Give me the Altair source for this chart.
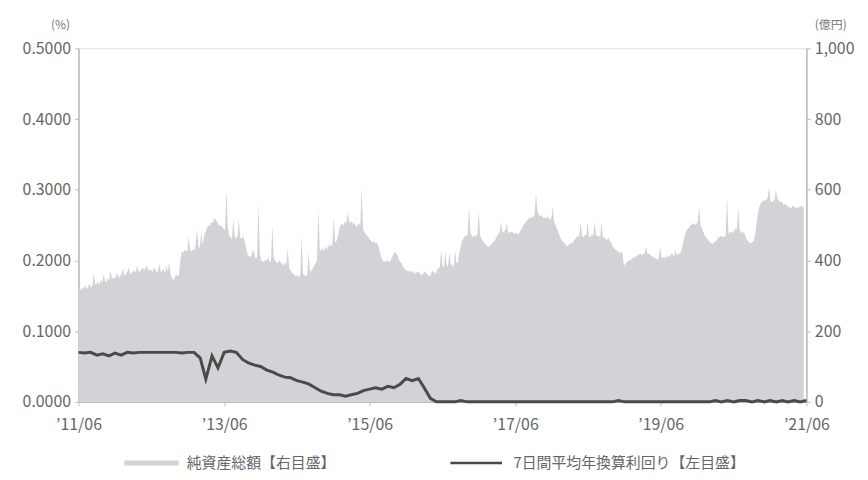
import altair as alt
import pandas as pd

# ---- Net assets (億円), weekly ----
assets_2011 = [318,322,315,325,320,330,318,326,335,322,330,365,332,
               335,340,330,345,338,360,342,340,350,345,372,348,352,
               350,355,365,350,358,360,378,355,362,368,380,360,365,
               368,372,365,385,370,368,375,380,372,378,388,370,375]
assets_2012 = [372,368,380,375,365,372,390,368,370,378,362,385,370,
               395,360,350,345,352,360,355,358,400,425,422,430,428,
               425,470,430,425,432,428,445,490,440,435,480,445,470,
               480,490,500,495,510,505,515,520,512,505,498,500,495]
assets_2013 = [490,485,600,495,470,465,460,518,470,462,468,515,465,
               460,470,455,440,420,412,410,415,430,420,405,410,560,
               420,400,398,395,402,400,410,395,400,500,410,398,395,
               392,400,395,390,385,395,388,434,380,372,365,362,358]
assets_2014 = [356,358,352,360,468,362,358,355,360,425,365,372,378,
               385,392,400,552,430,428,435,425,440,432,438,445,440,
               445,524,450,455,470,490,500,505,498,510,505,538,510,
               505,512,500,508,495,500,505,498,608,490,480,475,470]
assets_2015 = [465,458,455,450,455,448,450,440,425,410,400,398,395,
               400,398,395,402,410,420,425,418,412,400,395,390,380,
               375,372,370,368,372,365,370,362,368,365,370,360,358,
               362,370,365,360,358,355,365,370,368,360,372,380,378]
assets_2016 = [431,385,380,430,382,388,425,385,390,380,428,392,395,
               420,440,455,462,470,468,475,552,480,470,465,472,468,
               475,538,470,460,455,450,445,440,438,442,445,450,455,
               460,470,475,480,510,478,482,485,505,480,478,482,480]
assets_2017 = [478,475,480,472,478,485,490,500,505,510,515,520,518,
               525,520,530,594,540,530,525,528,520,522,518,525,520,
               515,520,552,510,500,490,480,470,460,455,450,445,440,
               442,445,450,448,455,460,465,470,468,510,470,465,472]
assets_2018 = [470,510,468,465,475,470,510,472,468,470,465,510,462,
               468,460,458,465,455,450,440,435,430,428,425,420,425,
               422,384,390,395,398,400,402,405,410,408,412,415,418,
               420,415,418,422,440,418,420,415,412,410,408,405,403]
assets_2019 = [405,440,408,410,405,412,408,415,410,420,418,412,430,
               415,418,420,425,440,460,475,485,490,495,500,502,505,
               500,504,508,552,500,490,480,470,465,460,455,450,448,
               448,452,455,460,465,468,470,465,468,470,580,475,480]
assets_2020 = [482,478,485,490,488,552,485,480,478,482,470,460,455,
               450,448,452,455,470,500,530,550,560,565,570,568,572,
               575,608,570,565,568,572,600,575,570,565,568,560,558,
               560,555,552,550,548,555,552,550,548,552,550,555,552,550]

net_assets = (assets_2011 + assets_2012 + assets_2013 + assets_2014 + assets_2015 +
              assets_2016 + assets_2017 + assets_2018 + assets_2019 + assets_2020)

# ---- 7-day average annualised yield (%), monthly ----
yield_7d = [0.070,0.069,0.070,0.066,0.068,0.065,0.069,0.066,0.070,0.069,0.070,0.070,
            0.070,0.070,0.070,0.070,0.070,0.069,0.070,0.070,0.062,0.032,0.065,0.048,
            0.070,0.072,0.070,0.060,0.055,0.052,0.050,0.045,0.042,0.038,0.035,0.034,
            0.030,0.028,0.025,0.020,0.015,0.012,0.010,0.010,0.008,0.010,0.012,0.016,
            0.018,0.020,0.018,0.022,0.020,0.025,0.033,0.030,0.033,0.020,0.005,0.000,
            0.000,0.000,0.000,0.002,0.000,0.000,0.000,0.000,0.000,0.000,0.000,0.000,
            0.000,0.000,0.000,0.000,0.000,0.000,0.000,0.000,0.000,0.000,0.000,0.000,
            0.000,0.000,0.000,0.000,0.000,0.002,0.000,0.000,0.000,0.000,0.000,0.000,
            0.000,0.000,0.000,0.000,0.000,0.000,0.000,0.000,0.000,0.002,0.000,0.002,
            0.000,0.002,0.002,0.000,0.002,0.000,0.002,0.000,0.002,0.000,0.002,0.000,
            0.002]

series_assets = "純資産総額【右目盛】"
series_yield = "7日間平均年換算利回り【左目盛】"
tick_years = [2011, 2013, 2015, 2017, 2019, 2021]
left_ticks = [0, 0.1, 0.2, 0.3, 0.4, 0.5]
right_ticks = [0, 200, 400, 600, 800, 1000]

asset_dates = pd.date_range("2011-06-01", periods=len(net_assets), freq="7D").strftime("%Y/%m/%d")
yield_dates = pd.date_range("2011-06-01", periods=len(yield_7d), freq="MS").strftime("%Y/%m/%d")

df_a = pd.DataFrame({"date": list(asset_dates), "value": net_assets, "series": series_assets})
df_y = pd.DataFrame({"date": list(yield_dates), "value": yield_7d, "series": series_yield})

FONT = "Noto Sans CJK JP"
TXT = "#666666"
AX = "#bbbbbb"

x_enc = alt.X(
    "date:T",
    scale=alt.Scale(domain=[alt.DateTime(year=2011, month=6, date=1),
                            alt.DateTime(year=2021, month=6, date=1)], nice=False),
    axis=alt.Axis(values=[alt.DateTime(year=y, month=6, date=1) for y in tick_years],
                  format="’%y/%m", title=None, labelFlush=False, labelFontSize=16,
                  labelFont=FONT, labelColor=TXT, labelPadding=11, tickSize=4,
                  tickColor=AX, domainColor=AX, domainWidth=1.5, grid=False),
)

area = alt.Chart(df_a).mark_area(interpolate="linear").encode(
    x=x_enc,
    y=alt.Y("value:Q", scale=alt.Scale(domain=[0, 1000], nice=False),
            axis=alt.Axis(orient="right", values=right_ticks, format=",d", title="(億円)",
                          titleAngle=0, titleX=8, titleY=-24, titleAlign="left",
                          titleBaseline="middle", titleFontSize=12, titleFontWeight="normal",
                          titleColor="#777777", titleFont=FONT,
                          labelFontSize=16, labelFont=FONT, labelColor=TXT, labelPadding=4,
                          tickSize=4, tickColor=AX, domainColor=AX, domainWidth=1.5, grid=False)),
    fill=alt.Fill("series:N", scale=alt.Scale(domain=[series_assets], range=["#d3d3d7"]),
                  legend=alt.Legend(title=None, orient="none", legendX=46, legendY=390,
                                    direction="horizontal",
                                    symbolType="M-1,-0.09L1,-0.09L1,0.09L-1,0.09Z",
                                    symbolSize=3000, symbolStrokeWidth=0,
                                    labelFontSize=15, labelFont=FONT, labelColor=TXT,
                                    labelLimit=400, labelOffset=8)),
)

line = alt.Chart(df_y).mark_line(interpolate="linear", strokeWidth=3).encode(
    x=x_enc,
    y=alt.Y("value:Q", scale=alt.Scale(domain=[0, 0.5], nice=False),
            axis=alt.Axis(orient="left", values=left_ticks, format=".4f", title="(%)",
                          titleAngle=0, titleX=-9, titleY=-24, titleAlign="right",
                          titleBaseline="middle", titleFontSize=12, titleFontWeight="normal",
                          titleColor="#777777", titleFont=FONT,
                          labelFontSize=16, labelFont=FONT, labelColor=TXT, labelPadding=4,
                          tickSize=4, tickColor=AX, domainColor=AX, domainWidth=1.5, grid=False)),
    stroke=alt.Stroke("series:N", scale=alt.Scale(domain=[series_yield], range=["#4a4a4a"]),
                      legend=alt.Legend(title=None, orient="none", legendX=373, legendY=390,
                                        direction="horizontal", symbolType="stroke",
                                        symbolSize=2700, symbolStrokeWidth=2.5,
                                        labelFontSize=15, labelFont=FONT, labelColor=TXT,
                                        labelLimit=400, labelOffset=10)),
)

chart = alt.layer(area, line).resolve_scale(
    y="independent", fill="independent", stroke="independent"
).properties(
    width=733, height=356,
    padding={"left": 71, "top": 39, "right": 54, "bottom": 70},
    autosize=alt.AutoSizeParams(type="none"),
).configure_view(stroke=None).configure(background="white")

chart.save("out.html", embed_options={"renderer": "svg", "actions": False})
